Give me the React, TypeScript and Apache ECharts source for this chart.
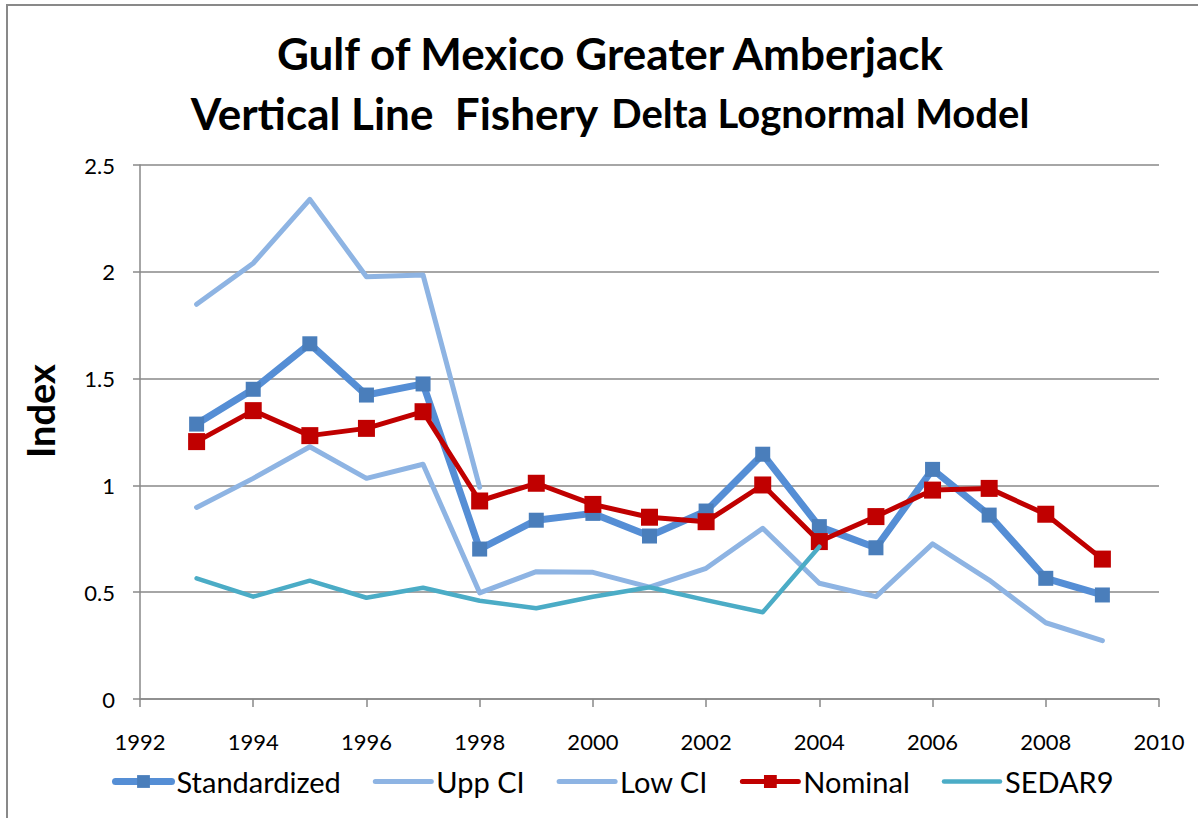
import React, { useEffect, useRef } from "react";
import * as echarts from "echarts";

const years = [1993, 1994, 1995, 1996, 1997, 1998, 1999, 2000, 2001, 2002, 2003, 2004, 2005, 2006, 2007, 2008, 2009];
const standardized = [1.287, 1.45, 1.663, 1.423, 1.475, 0.702, 0.837, 0.869, 0.763, 0.88, 1.146, 0.807, 0.708, 1.075, 0.861, 0.565, 0.487];
const uppCI = [1.848, 2.04, 2.339, 1.977, 1.985, 0.991];
const lowCI = [0.897, 1.033, 1.181, 1.033, 1.099, 0.497, 0.596, 0.593, 0.524, 0.612, 0.799, 0.542, 0.479, 0.726, 0.557, 0.357, 0.273];
const nominal = [1.205, 1.35, 1.233, 1.267, 1.345, 0.927, 1.01, 0.911, 0.851, 0.83, 1.002, 0.737, 0.854, 0.978, 0.986, 0.865, 0.655];
const sedar9 = [0.565, 0.479, 0.554, 0.474, 0.521, 0.46, 0.425, 0.479, 0.523, 0.463, 0.406, 0.713];

const xTicks = { min: 1992, max: 2010, interval: 2 };
const yTicks = { min: 0, max: 2.5, interval: 0.5 };

const pairs = (vals: number[]) => vals.map((v, i) => [years[i], v]);

const FONT = "Lato, 'Open Sans', sans-serif";
const GRAY = "#898989";

export default function App() {
  const ref = useRef<HTMLDivElement>(null);
  useEffect(() => {
    if (!ref.current) return;
    const chart = echarts.init(ref.current, undefined, { renderer: "svg" });
    chart.setOption({
      animation: false,
      backgroundColor: "#ffffff",
      textStyle: { fontFamily: FONT },
      title: {
        left: 605,
        top: 18,
        textAlign: "center",
        text: "{a|Gulf of Mexico Greater Amberjack}\n{a|Vertical Line  Fishery}   {b|Delta Lognormal Model}",
        textStyle: {
          rich: {
            a: { fontFamily: FONT, fontSize: 44, fontWeight: "bold", color: "#000", lineHeight: 60 },
            b: { fontFamily: FONT, fontSize: 40, fontWeight: "bold", color: "#000", lineHeight: 60 },
          },
        },
      },
      graphic: [
        {
          type: "rect",
          shape: { x: 7, y: 5, width: 1400, height: 1000 },
          style: { fill: "none", stroke: GRAY, lineWidth: 2 },
          silent: true,
        },
        {
          type: "text",
          x: 40,
          y: 411,
          rotation: Math.PI / 2,
          style: {
            text: "Index",
            fontFamily: FONT,
            fontSize: 38,
            fontWeight: "bold",
            fill: "#000",
            align: "center",
            verticalAlign: "middle",
          },
        },
      ],
      legend: {
        left: 107,
        top: 762,
        itemWidth: 56,
        itemHeight: 16,
        itemGap: 32,
        textStyle: { fontFamily: FONT, fontSize: 29, color: "#000" },
        data: [
          { name: "Standardized", lineStyle: { width: 7 } },
          { name: "Upp CI", lineStyle: { width: 5 }, itemStyle: { opacity: 0 } },
          { name: "Low CI", lineStyle: { width: 5 }, itemStyle: { opacity: 0 } },
          { name: "Nominal", lineStyle: { width: 5 } },
          { name: "SEDAR9", lineStyle: { width: 4.5 }, itemStyle: { opacity: 0 } },
        ],
      },
      grid: { left: 140, right: 39, top: 165, bottom: 119 },
      xAxis: {
        type: "value",
        ...xTicks,
        axisLine: { lineStyle: { color: GRAY, width: 1.5 } },
        axisTick: { show: true, length: 8, lineStyle: { color: GRAY, width: 1.5 } },
        axisLabel: { color: "#000", fontSize: 22, margin: 31, fontFamily: FONT, formatter: (v: number) => String(v) },
        splitLine: { show: false },
      },
      yAxis: {
        type: "value",
        ...yTicks,
        axisLine: { show: true, lineStyle: { color: GRAY, width: 1.5 } },
        axisTick: { show: true, length: 7, lineStyle: { color: GRAY, width: 1.5 } },
        axisLabel: { color: "#000", fontSize: 22, margin: 25, fontFamily: FONT },
        splitLine: { show: true, lineStyle: { color: GRAY, width: 1.5 } },
      },
      series: [
        {
          name: "Standardized",
          type: "line",
          data: pairs(standardized),
          symbol: "rect",
          symbolSize: 15,
          itemStyle: { color: "#4A7EBB" },
          lineStyle: { color: "#558ED5", width: 7, cap: "round", join: "round" },
          z: 2,
        },
        {
          name: "Upp CI",
          type: "line",
          data: pairs(uppCI),
          showSymbol: false,
          symbol: "none",
          itemStyle: { color: "#8EB4E3" },
          lineStyle: { color: "#8EB4E3", width: 5, cap: "round", join: "round" },
          z: 3,
        },
        {
          name: "Low CI",
          type: "line",
          data: pairs(lowCI),
          showSymbol: false,
          symbol: "none",
          itemStyle: { color: "#8EB4E3" },
          lineStyle: { color: "#8EB4E3", width: 5, cap: "round", join: "round" },
          z: 4,
        },
        {
          name: "Nominal",
          type: "line",
          data: pairs(nominal),
          symbol: "rect",
          symbolSize: 17,
          itemStyle: { color: "#C00000" },
          lineStyle: { color: "#C00000", width: 5, cap: "round", join: "round" },
          z: 5,
        },
        {
          name: "SEDAR9",
          type: "line",
          data: pairs(sedar9),
          showSymbol: false,
          symbol: "none",
          itemStyle: { color: "#4BACC6" },
          lineStyle: { color: "#4BACC6", width: 4.5, cap: "round", join: "round" },
          z: 6,
        },
      ],
    });
    return () => chart.dispose();
  }, []);
  return (
    <div
      ref={ref}
      style={{ position: "fixed", left: 0, top: 0, width: 1198, height: 818, background: "#fff" }}
    />
  );
}
